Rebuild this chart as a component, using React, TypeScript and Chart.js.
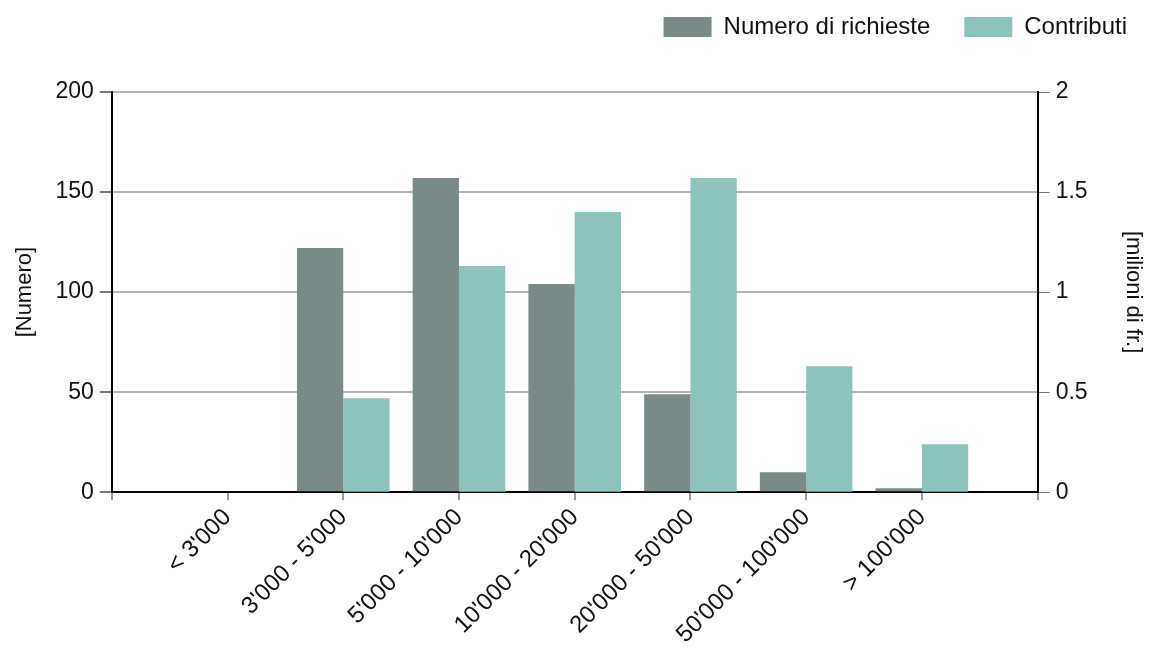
import React, { useEffect, useRef } from "react";
import { Chart, registerables } from "chart.js";

Chart.register(...registerables);

const categories = ["", "< 3'000", "3'000 - 5'000", "5'000 - 10'000", "10'000 - 20'000", "20'000 - 50'000", "50'000 - 100'000", "> 100'000", ""];
const numeroRichieste = [null, 0, 122, 157, 104, 49, 10, 2, null];
const contributi = [null, 0, 0.47, 1.13, 1.4, 1.57, 0.63, 0.24, null];
const leftTicks = [0, 50, 100, 150, 200];
const rightTicks = [0, 0.5, 1, 1.5, 2];

const FONT = "'Liberation Sans', Arial, sans-serif";

const legendSpacer = {
  id: "legendSpacer",
  beforeInit(chart: any) {
    const legend = chart.legend;
    if (!legend) return;
    const origFit = legend.fit;
    legend.fit = function () {
      origFit.call(this);
      this.height += 43;
    };
    const origDraw = legend.draw;
    legend.draw = function (...args: any[]) {
      const c = this.ctx;
      c.save();
      c.translate(9, 0);
      origDraw.apply(this, args);
      c.restore();
    };
  },
};

export default function App() {
  const ref = useRef<HTMLCanvasElement | null>(null);
  useEffect(() => {
    document.body.style.margin = "0";
    const ctx = ref.current!;
    const chart = new Chart(ctx, {
      type: "bar",
      plugins: [legendSpacer],
      data: {
        labels: categories,
        datasets: [
          {
            label: "Numero di richieste",
            data: numeroRichieste as any,
            backgroundColor: "#7a8a88",
            borderWidth: 0,
            yAxisID: "y",
            categoryPercentage: 0.8,
            barPercentage: 1.0,
          },
          {
            label: "Contributi",
            data: contributi as any,
            backgroundColor: "#8cc3bc",
            borderWidth: 0,
            yAxisID: "y1",
            categoryPercentage: 0.8,
            barPercentage: 1.0,
          },
        ],
      },
      options: {
        animation: false,
        responsive: true,
        maintainAspectRatio: false,
        layout: { padding: { left: 0, right: 0, top: -19, bottom: -2 } },
        plugins: {
          tooltip: { enabled: false },
          legend: {
            position: "top",
            align: "end",
            labels: {
              boxWidth: 48,
              boxHeight: 20,
              color: "#111",
              padding: 34,
              font: { family: FONT, size: 24 },
            },
          },
        },
        scales: {
          x: {
            offset: false,
            grid: { offset: false, drawOnChartArea: false, drawTicks: true, tickLength: 8, color: "#999", lineWidth: 2 },
            border: { color: "#000", width: 2 },
            ticks: {
              autoSkip: false,
              maxRotation: 45,
              minRotation: 45,
              color: "#111",
              font: { family: FONT, size: 24 },
            },
          },
          y: {
            position: "left",
            min: 0,
            max: 200,
            afterBuildTicks: (axis: any) => {
              axis.ticks = leftTicks.map((v) => ({ value: v }));
            },
            grid: { color: "#b4b4b4", lineWidth: 2, tickLength: 12, tickColor: "#777" },
            border: { color: "#000", width: 2 },
            ticks: { color: "#111", padding: 6, font: { family: FONT, size: 23 } },
            title: {
              display: true,
              text: "[Numero]",
              color: "#111",
              padding: { top: 12, bottom: 11 },
              font: { family: FONT, size: 22 },
            },
          },
          y1: {
            position: "right",
            min: 0,
            max: 2,
            afterBuildTicks: (axis: any) => {
              axis.ticks = rightTicks.map((v) => ({ value: v }));
            },
            grid: { drawOnChartArea: false, tickLength: 12, color: "#777", lineWidth: 1 },
            border: { color: "#000", width: 2 },
            ticks: {
              color: "#111",
              padding: 6,
              font: { family: FONT, size: 23 },
              callback: (v: any) => String(v),
            },
            title: {
              display: true,
              text: "[milioni di fr.]",
              color: "#111",
              padding: { top: 6, bottom: 26 },
              font: { family: FONT, size: 22 },
            },
          },
        },
      },
    });
    return () => chart.destroy();
  }, []);
  return (
    <div style={{ width: 1152, height: 650, position: "relative" }}>
      <canvas ref={ref} />
    </div>
  );
}
